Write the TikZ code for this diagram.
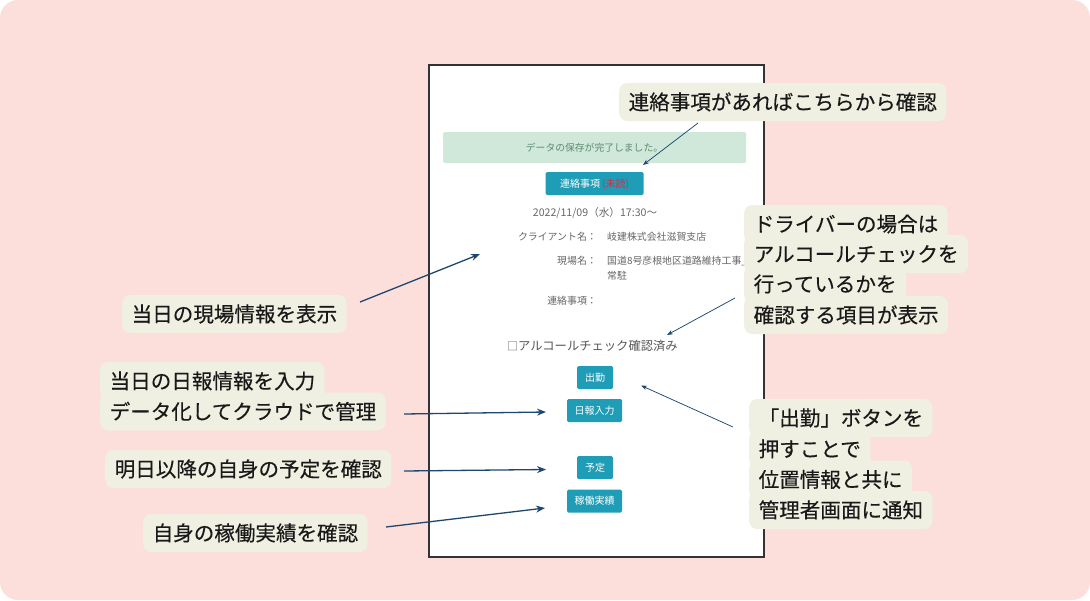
\documentclass[tikz,border=0pt]{standalone}
\usepackage{fontspec}
\setmainfont{Noto Sans CJK JP}
\newfontfamily\pillfont[FakeBold=0.35]{Noto Sans CJK JP}
\usetikzlibrary{arrows.meta}
\definecolor{pagebg}{HTML}{FCDEDA}
\definecolor{pillbg}{HTML}{EFEFE2}
\definecolor{panelbg}{HTML}{CFE8D9}
\definecolor{panelfg}{HTML}{5E8A70}
\definecolor{btnbg}{HTML}{1F9DB6}
\definecolor{framec}{HTML}{333333}
\definecolor{arrowc}{HTML}{1E4770}
\definecolor{greyfg}{HTML}{666666}
\definecolor{unread}{HTML}{C8324A}
\tikzset{
  pill/.style={fill=pillbg,rounded corners=8pt,anchor=west,inner xsep=9.5pt,inner ysep=0pt,
    minimum height=38pt,text height=15.5pt,text depth=0pt,text=black!90,
    font=\pillfont\fontsize{20.55}{24}\selectfont},
  btn/.style={fill=btnbg,rounded corners=1.5pt,inner sep=0pt,text=white,
    text height=7.2pt,text depth=0pt,font=\fontsize{10}{12}\selectfont},
  info/.style={inner sep=0pt,text=greyfg,text height=7.4pt,text depth=0pt,
    font=\fontsize{9.9}{12}\selectfont},
  thinarrow/.style={draw=arrowc,line width=0.75pt,-{Stealth[length=6pt,width=4.5pt]}},
  thickarrow/.style={draw=arrowc,line width=1.3pt,-{Stealth[length=9pt,width=7pt]}},
}
\begin{document}
\begin{tikzpicture}[x=1pt,y=-1pt]
\useasboundingbox (0,0) rectangle (1090,600);
\fill[white] (0,0) rectangle (1090,600);
\fill[pagebg,rounded corners=18pt] (0,0) rectangle (1090,600);

% phone screen
\node[draw=framec,fill=white,line width=1.4pt,minimum width=335pt,minimum height=492pt,inner sep=0pt] (screen) at (596.5,311) {};
\node[fill=panelbg,rounded corners=1.5pt,minimum width=303pt,minimum height=31pt,inner sep=0pt,text=panelfg,
  text height=7.2pt,text depth=0pt,font=\fontsize{9.8}{12}\selectfont] (panel) at (594.5,147.5) {データの保存が完了しました。};
\node[btn,minimum width=98pt,minimum height=23pt] (contact) at (594.5,183.5) {連絡事項 {\color{unread}(未読)}};
\node[info,font=\fontsize{10.6}{12}\selectfont] (date) at (595,212.5) {2022/11/09（水）17:30～};
\node[info,anchor=east] (clientl) at (597,236.5) {クライアント名：};
\node[info,anchor=west] (clientv) at (607,236.5) {岐建株式会社滋賀支店};
\node[info,anchor=east] (sitel) at (597,260.5) {現場名：};
\node[info,anchor=west] (sitev) at (607,260.5) {国道8号彦根地区道路維持工事\_};
\node[info,anchor=west] (sitew) at (607,275.5) {常駐};
\node[info,anchor=east] (notel) at (597,300.5) {連絡事項：};
\node[inner sep=0pt,text=greyfg!85!black,text height=9.2pt,text depth=0pt,anchor=west,font=\fontsize{12.3}{14}\selectfont] (alc) at (507,345.5) {{\fontsize{11}{12}\selectfont □}アルコールチェック確認済み};
\node[btn,minimum width=36pt,minimum height=23pt] (b1) at (595,377.5) {出勤};
\node[btn,minimum width=55pt,minimum height=23pt] (b2) at (594.5,410.5) {日報入力};
\node[btn,minimum width=36pt,minimum height=23pt] (b3) at (595,467.5) {予定};
\node[btn,minimum width=55pt,minimum height=23pt] (b4) at (594.5,501) {稼働実績};

% callouts
\node[pill] (top) at (619,102) {連絡事項があればこちらから確認};
\node[pill] (l1) at (122,314) {当日の現場情報を表示};
\node[pill] (l2a) at (100,381) {当日の日報情報を入力};
\node[pill] (l2b) at (100,411.5) {データ化してクラウドで管理};
\node[pill] (l3) at (105,469) {明日以降の自身の予定を確認};
\node[pill] (l4) at (143,533) {自身の稼働実績を確認};
\node[pill] (r1a) at (744,224) {ドライバーの場合は};
\node[pill] (r1b) at (744,254) {アルコールチェックを};
\node[pill] (r1c) at (744,284) {行っているかを};
\node[pill] (r1d) at (744,315) {確認する項目が表示};
\node[pill] (r2a) at (749,418) {「出勤」ボタンを};
\node[pill] (r2b) at (749,449) {押すことで};
\node[pill] (r2c) at (749,479.5) {位置情報と共に};
\node[pill] (r2d) at (749,510) {管理者画面に通知};

% connector ends
\coordinate (s1) at (698,123);  \coordinate (e1) at (643,165);
\coordinate (s2) at (360,302);  \coordinate (e2) at (480,254);
\coordinate (s3) at (735,298);  \coordinate (e3) at (667,335);
\coordinate (s4) at (733,427);  \coordinate (e4) at (641,385.5);
\coordinate (s5) at (404,414);  \coordinate (e5) at (546,412);
\coordinate (s6) at (404,471);  \coordinate (e6) at (546,469.5);
\coordinate (s7) at (386,527);  \coordinate (e7) at (545,508);
\draw[thinarrow] (s1) -- (e1);
\draw[thickarrow] (s2) -- (e2);
\draw[thinarrow] (s3) -- (e3);
\draw[thinarrow] (s4) -- (e4);
\draw[thickarrow] (s5) -- (e5);
\draw[thickarrow] (s6) -- (e6);
\draw[thickarrow] (s7) -- (e7);
\end{tikzpicture}
\end{document}
